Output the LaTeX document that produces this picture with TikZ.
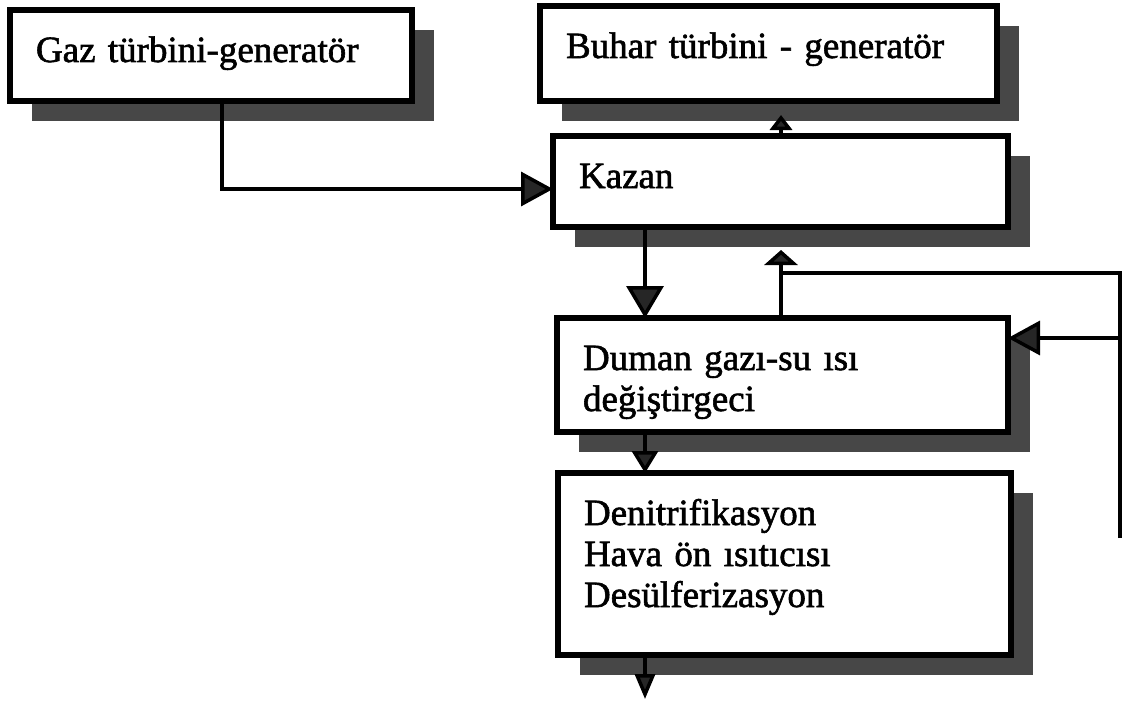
\documentclass[tikz,border=0pt]{standalone}
\usepackage{fontspec}
\setmainfont{Liberation Serif}[FakeBold=1.6]
\usetikzlibrary{arrows.meta,shadows}
\colorlet{shadowgray}{black!72}
\colorlet{tipgray}{black!85}

\begin{document}
\begin{tikzpicture}[x=1bp,y=-1bp,
	block/.style={shape=rectangle, draw, line width=5.5bp, fill=white, anchor=north west,
		outer sep=0pt, inner xsep=26bp, inner ysep=0pt, text height=52bp, align=left,
		font=\fontsize{37bp}{41bp}\selectfont,
		drop shadow={shadow xshift=22bp, shadow yshift=-20bp, fill=shadowgray, opacity=1}},
	flow/.style={line width=3.5bp, -{Triangle[length=32bp,width=34bp,fill=tipgray]}},
	wire/.style={line width=3.5bp}]
	\useasboundingbox[fill=white] (0,0) rectangle (1124,701);

	\node[block, text width=350bp, text depth=39bp] (1) at (10,10) {Gaz türbini-generatör};
	\node[block, text width=405bp, text depth=43bp] (2) at (540,6) {Buhar türbini - generatör};
	\node[block, text width=403bp, text depth=39bp] (3) at (553,136) {Kazan};
	\node[block, text width=399bp, text depth=62bp] (4) at (557,318) {Duman gazı-su ısı\\değiştirgeci};
	\node[block, text width=401bp, text depth=130bp] (5) at (558,473) {Denitrifikasyon\\Hava ön ısıtıcısı\\Desülferizasyon};

	\coordinate (6) at (1120,538);
	\coordinate (7) at (1120,273);
	\coordinate (8) at (645,699);

	\draw [flow] (1.south -| 222,0) |- ([yshift=-7.5bp]3.west);
	\path [flow, -{Triangle[length=15bp,width=22bp,fill=tipgray]}, shorten >=14bp] (3.north -| 781,0) edge (2.south -| 781,0);
	\path [flow, -{Triangle[length=32bp,width=37bp,fill=tipgray]}] (3.south -| 645,0) edge (4.north -| 645,0);
	\path [flow, -{Triangle[length=15bp,width=33bp,fill=tipgray]}, shorten >=23bp] (4.north -| 781,0) edge (3.south -| 781,0);
	\draw [wire] (6) -- (7) -- (7 -| 781,0);
	\path [flow] (6 |- 0,338) edge (4.east |- 0,338);
	\path [flow, -{Triangle[length=22bp,width=26bp,fill=tipgray]}] (4.south -| 645,0) edge (5.north -| 645,0);
	\path [flow, -{Triangle[length=25bp,width=20bp,fill=tipgray]}] (5.south -| 645,0) edge (8);
\end{tikzpicture}
\end{document}
